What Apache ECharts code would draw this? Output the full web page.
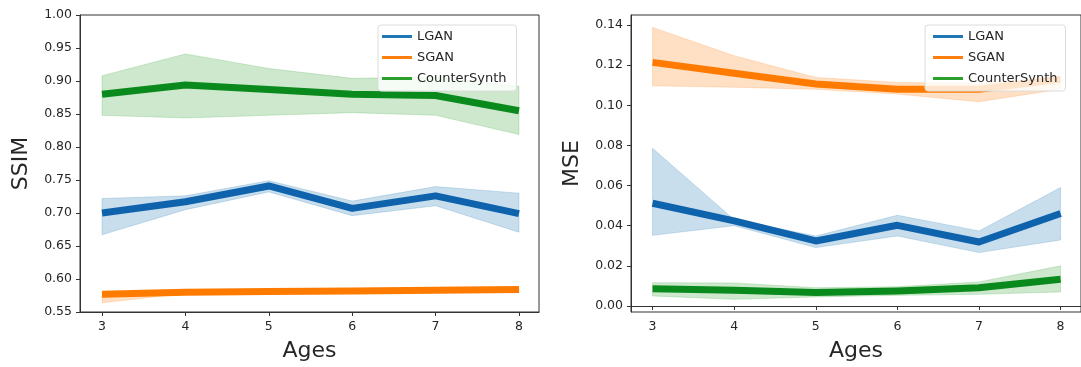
<!DOCTYPE html>
<html>
<head>
<meta charset="utf-8">
<script src="https://cdn.jsdelivr.net/npm/echarts@6/dist/echarts.min.js"></script>
<style>
html,body{margin:0;padding:0;background:#fff;}
#chart{width:1081px;height:367px;}
</style>
</head>
<body>
<div id="chart"></div>
<script>
const ages = [3, 4, 5, 6, 7, 8];
const seriesNames = ['LGAN', 'SGAN', 'CounterSynth'];

// SSIM panel
const ssimLGAN   = [0.700, 0.717, 0.741, 0.707, 0.726, 0.699];
const ssimLGANLo = [0.667, 0.705, 0.732, 0.696, 0.711, 0.671];
const ssimLGANHi = [0.722, 0.726, 0.749, 0.718, 0.740, 0.730];
const ssimSGAN   = [0.577, 0.580, 0.581, 0.582, 0.583, 0.584];
const ssimSGANLo = [0.564, 0.578, 0.579, 0.580, 0.581, 0.580];
const ssimSGANHi = [0.580, 0.582, 0.583, 0.584, 0.585, 0.587];
const ssimCS     = [0.880, 0.894, 0.887, 0.880, 0.878, 0.855];
const ssimCSLo   = [0.848, 0.844, 0.848, 0.852, 0.848, 0.819];
const ssimCSHi   = [0.908, 0.941, 0.919, 0.904, 0.906, 0.892];

// MSE panel
const mseLGAN   = [0.0512, 0.0424, 0.0324, 0.0402, 0.0319, 0.0461];
const mseLGANLo = [0.0352, 0.0400, 0.0291, 0.0349, 0.0266, 0.0329];
const mseLGANHi = [0.0786, 0.0430, 0.0349, 0.0452, 0.0374, 0.0590];
const mseSGAN   = [0.1214, 0.1160, 0.1106, 0.1080, 0.1080, 0.1130];
const mseSGANLo = [0.1097, 0.1090, 0.1080, 0.1056, 0.1018, 0.1080];
const mseSGANHi = [0.1388, 0.1247, 0.1139, 0.1114, 0.1110, 0.1144];
const mseCS     = [0.0086, 0.0078, 0.0067, 0.0075, 0.0091, 0.0133];
const mseCSLo   = [0.0050, 0.0033, 0.0045, 0.0053, 0.0058, 0.0070];
const mseCSHi   = [0.0116, 0.0115, 0.0091, 0.0096, 0.0120, 0.0200];

// tick labels
const ssimTicks = [0.55, 0.60, 0.65, 0.70, 0.75, 0.80, 0.85, 0.90, 0.95, 1.00];
const mseTicks  = [0.00, 0.02, 0.04, 0.06, 0.08, 0.10, 0.12, 0.14];
const ageTicks  = [3, 4, 5, 6, 7, 8];

const lineColors   = ['#0f63ad', '#ff7b00', '#0a8a1c'];
const legendColors = ['#1f77b4', '#ff7f0e', '#2ca02c'];
const bandColors   = ['rgba(31,119,180,0.24)', 'rgba(255,127,14,0.24)', 'rgba(44,160,44,0.24)'];
const bandEdge     = ['rgba(31,119,180,0.20)', 'rgba(255,127,14,0.20)', 'rgba(44,160,44,0.20)'];

const FONT = 'DejaVu Sans';
const TXT = '#262626';

function pairs(vals) { return ages.map((a, i) => [a, vals[i]]); }

function bandSeries(gi, k, lo, hi) {
  const rows = ages.map((a, i) => [a, lo[i], hi[i]]);
  return {
    type: 'custom', xAxisIndex: gi, yAxisIndex: gi, silent: true, z: 1,
    data: rows,
    encode: { x: 0, y: [1, 2] },
    renderItem: function (params, api) {
      if (params.dataIndex !== 0) return null;
      const upper = rows.map(r => api.coord([r[0], r[2]]));
      const lower = rows.map(r => api.coord([r[0], r[1]])).reverse();
      return {
        type: 'polygon',
        shape: { points: upper.concat(lower) },
        style: { fill: bandColors[k], stroke: bandEdge[k], lineWidth: 1 }
      };
    }
  };
}

function meanSeries(gi, k, vals) {
  return { name: seriesNames[k], type: 'line', xAxisIndex: gi, yAxisIndex: gi,
    data: pairs(vals), symbol: 'none', z: 3,
    itemStyle: { color: lineColors[k] },
    lineStyle: { width: 7, color: lineColors[k], join: 'round' } };
}

const panels = [
  { mean: [ssimLGAN, ssimSGAN, ssimCS], lo: [ssimLGANLo, ssimSGANLo, ssimCSLo], hi: [ssimLGANHi, ssimSGANHi, ssimCSHi] },
  { mean: [mseLGAN, mseSGAN, mseCS], lo: [mseLGANLo, mseSGANLo, mseCSLo], hi: [mseLGANHi, mseSGANHi, mseCSHi] }
];

const series = [];
panels.forEach((p, gi) => {
  for (let k = 0; k < 3; k++) series.push(bandSeries(gi, k, p.lo[k], p.hi[k]));
  for (let k = 0; k < 3; k++) series.push(meanSeries(gi, k, p.mean[k]));
});

function xAxisDef(gi, min, max) {
  return {
    type: 'value', gridIndex: gi, min: min, max: max,
    name: 'Ages', nameLocation: 'middle', nameGap: 28,
    nameTextStyle: { fontFamily: FONT, fontSize: 22, color: TXT },
    axisLine: { show: true, lineStyle: { color: '#333', width: 1 } },
    axisTick: { show: true, length: 4, customValues: ageTicks, lineStyle: { color: '#333' } },
    axisLabel: { customValues: ageTicks, margin: 8, fontFamily: FONT, fontSize: 12.5, color: TXT,
      formatter: v => String(v) },
    splitLine: { show: false }
  };
}
function yAxisDef(gi, min, max, ticks, name) {
  return {
    type: 'value', gridIndex: gi, min: min, max: max,
    name: name, nameLocation: 'middle', nameGap: 48, nameRotate: 90,
    nameTextStyle: { fontFamily: FONT, fontSize: 22, color: TXT },
    axisLine: { show: true, lineStyle: { color: '#333', width: 1 } },
    axisTick: { show: true, length: 4, customValues: ticks, lineStyle: { color: '#333' } },
    axisLabel: { customValues: ticks, margin: 8, fontFamily: FONT, fontSize: 12.5, color: TXT,
      formatter: v => Number(v).toFixed(2) },
    splitLine: { show: false }
  };
}

function legendDef(left, top, padding) {
  return {
    orient: 'vertical', left: left, top: top, padding: padding,
    itemGap: 6, itemWidth: 30, itemHeight: 3, icon: 'rect',
    backgroundColor: 'rgba(255,255,255,0.8)', borderColor: '#dcdcdc', borderWidth: 1, borderRadius: 3,
    textStyle: { fontFamily: FONT, fontSize: 13, color: TXT, lineHeight: 15 },
    selectedMode: false,
    data: seriesNames.map((n, k) => ({ name: n, itemStyle: { color: legendColors[k] } })),
    z: 10
  };
}

const option = {
  backgroundColor: '#fff',
  animation: false,
  grid: [
    { left: 80, top: 15, width: 459, height: 298, show: true, borderColor: '#333', borderWidth: 1, backgroundColor: 'transparent' },
    { left: 631, top: 15, width: 460, height: 298, show: true, borderColor: '#333', borderWidth: 1, backgroundColor: 'transparent' }
  ],
  xAxis: [ xAxisDef(0, 2.736, 8.24), xAxisDef(1, 2.736, 8.25) ],
  yAxis: [ yAxisDef(0, 0.55, 1.00, ssimTicks, 'SSIM'), yAxisDef(1, -0.003, 0.145, mseTicks, 'MSE') ],
  legend: [ legendDef(378, 25, [4, 10, 5, 4]), legendDef(925, 25, [4, 8, 5, 8]) ],
  series: series
};

const chart = echarts.init(document.getElementById('chart'), null, { renderer: 'canvas' });
chart.setOption(option);
</script>
</body>
</html>
